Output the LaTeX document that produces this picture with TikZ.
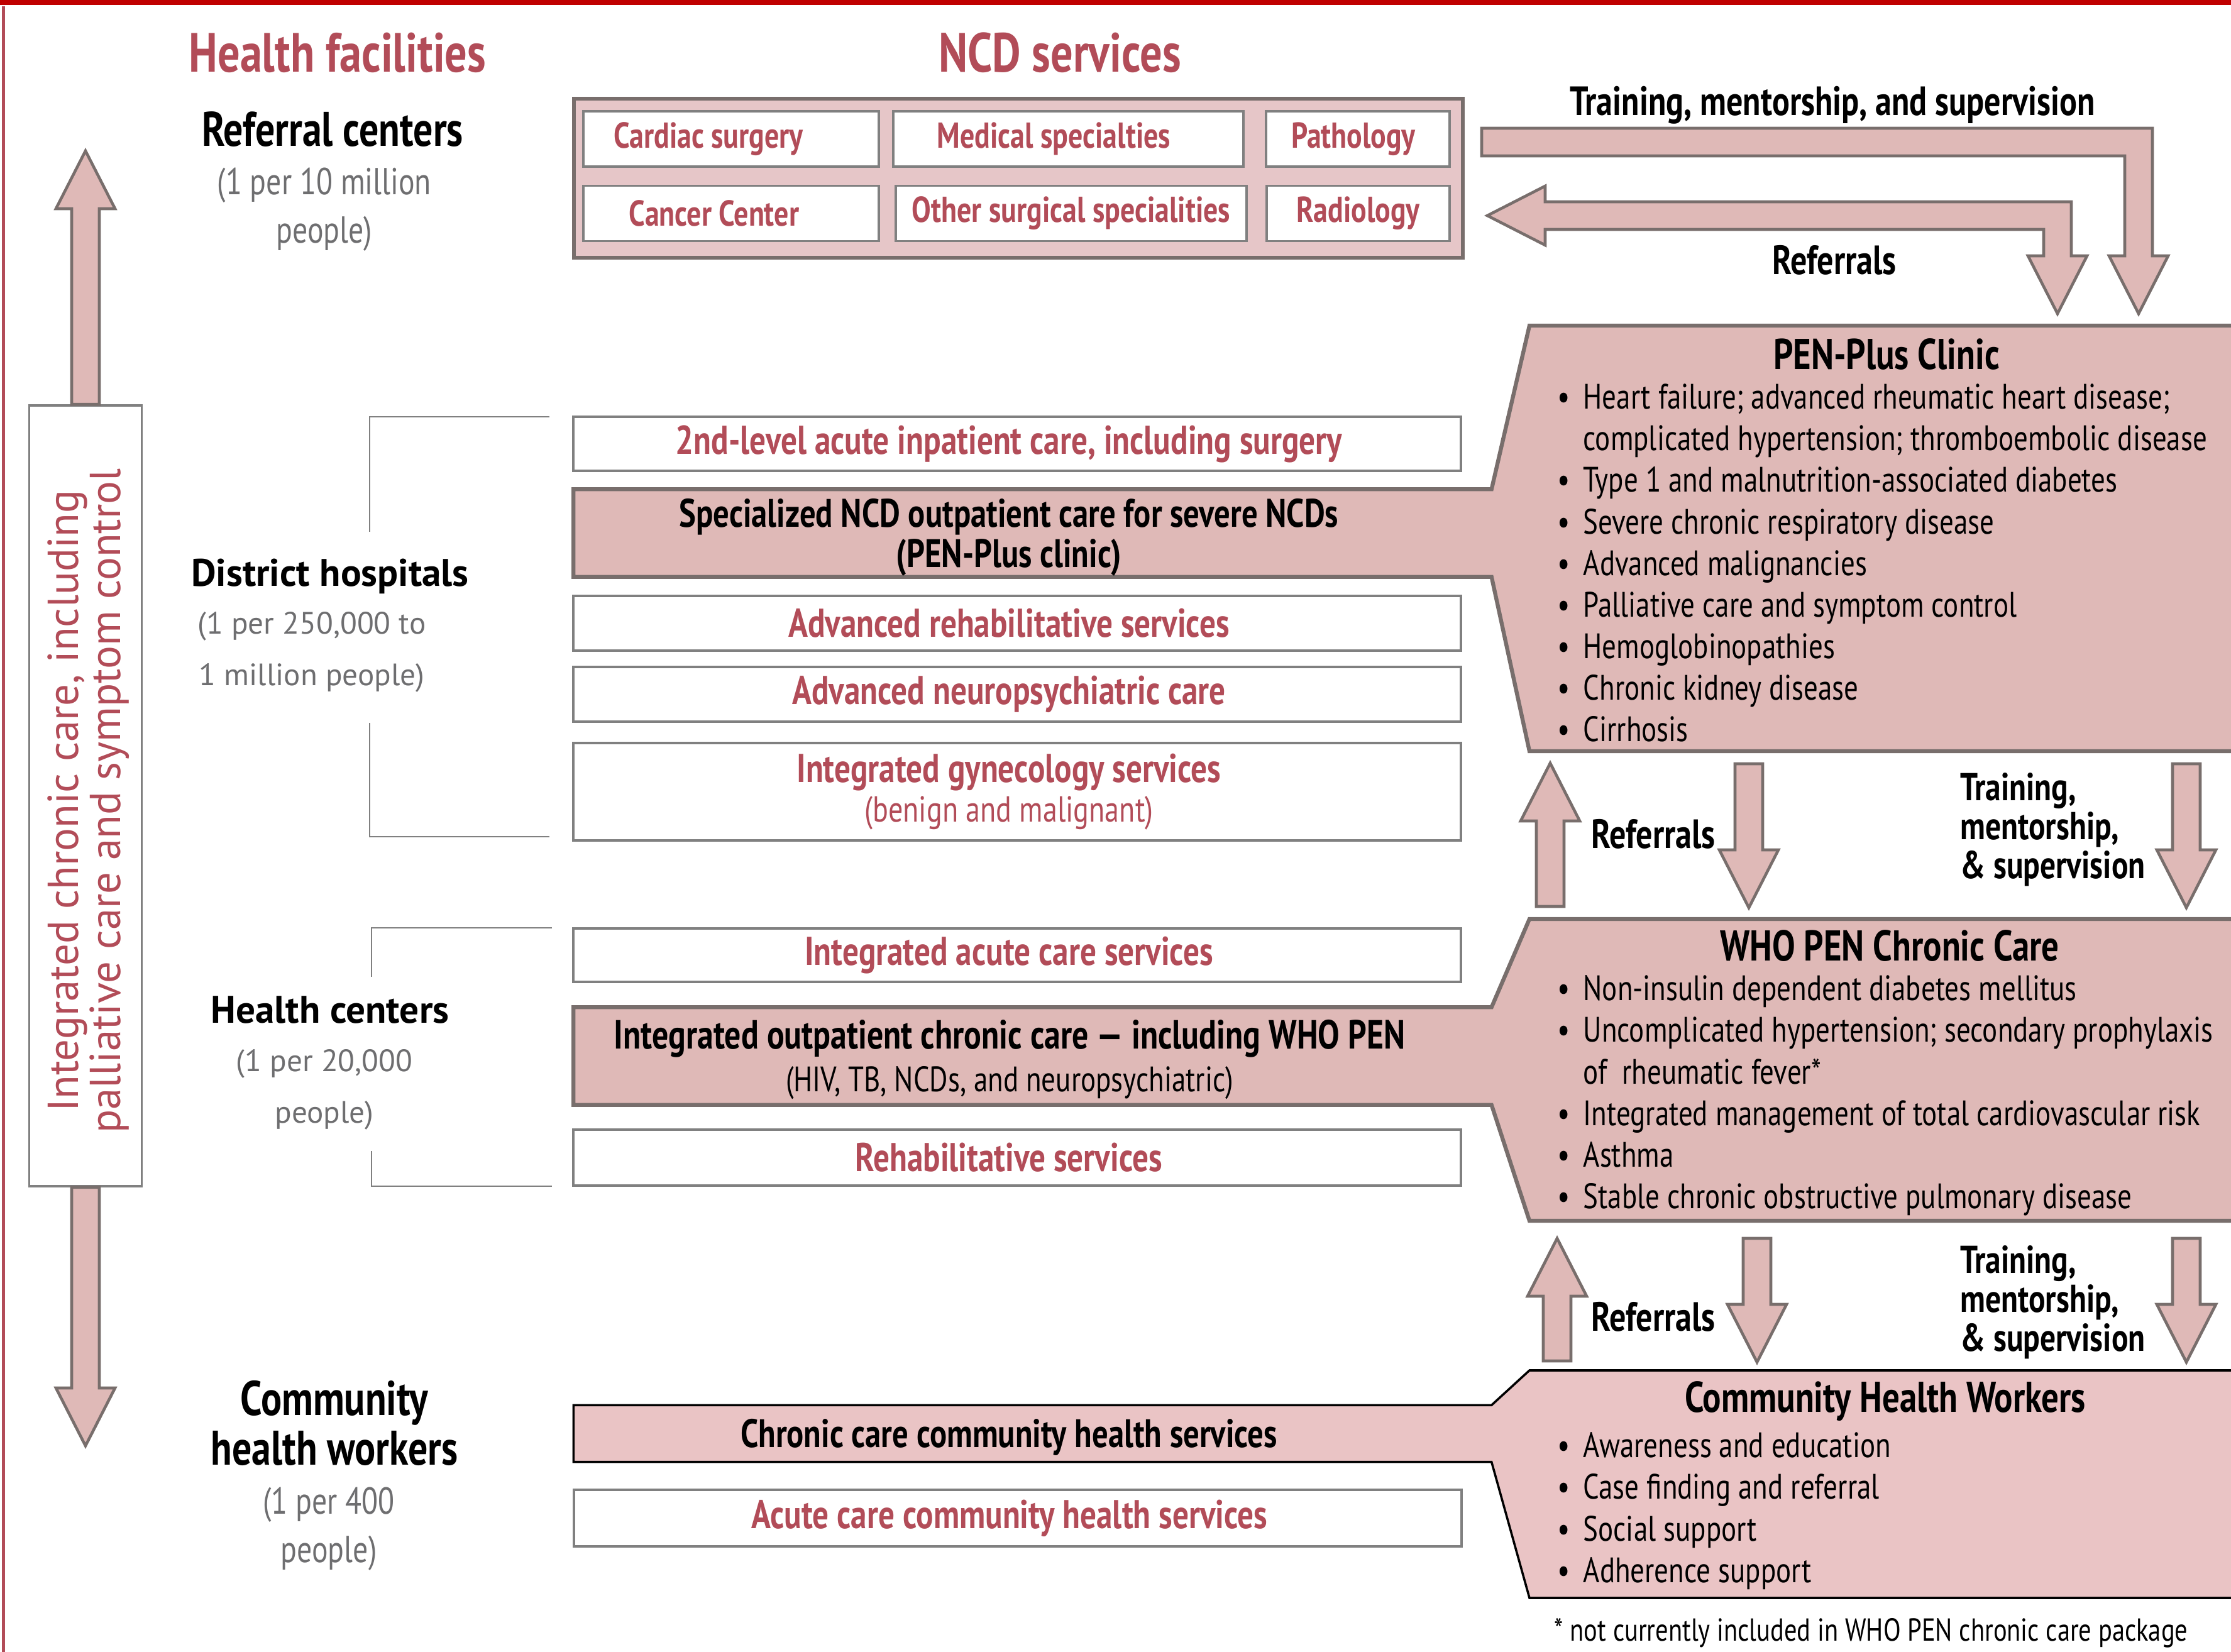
\documentclass[tikz,border=0pt]{standalone}
\usepackage{fontspec}
\setmainfont{PT Sans}[FakeStretch=0.8]
\newfontfamily\widefont{PT Sans}
\usetikzlibrary{calc}

\definecolor{rose}{RGB}{178,76,88}
\definecolor{topred}{RGB}{192,0,0}
\definecolor{subgray}{RGB}{110,110,112}
\definecolor{boxgray}{RGB}{128,128,128}
\definecolor{edgegray}{RGB}{120,110,108}
\definecolor{penfill}{RGB}{223,185,183}
\definecolor{chwfill}{RGB}{234,196,197}
\definecolor{reffill}{RGB}{230,198,200}

\newcommand{\fs}[2]{\fontsize{#1}{#2}\selectfont}
\newcommand{\bul}{\makebox[0.41cm][l]{\textbullet}}
\newcommand{\nob}{\hspace*{0.41cm}}

% block arrow sizes
\def\sw{0.22cm}
\def\hw{0.47cm}
\def\hl{0.92cm}
\newcommand{\fatdown}[2]{%
	\draw[fat] let \p1=(#1), \p2=(#2) in
		(\x1-\sw,\y1) -- (\x1-\sw,\y2+\hl) -- (\x1-\hw,\y2+\hl) -- (\x1,\y2)
		-- (\x1+\hw,\y2+\hl) -- (\x1+\sw,\y2+\hl) -- (\x1+\sw,\y1) -- cycle;}
\newcommand{\fatup}[2]{%
	\draw[fat] let \p1=(#1), \p2=(#2) in
		(\x1-\sw,\y1) -- (\x1-\sw,\y2-\hl) -- (\x1-\hw,\y2-\hl) -- (\x1,\y2)
		-- (\x1+\hw,\y2-\hl) -- (\x1+\sw,\y2-\hl) -- (\x1+\sw,\y1) -- cycle;}

\tikzset{
	heading/.style={text=rose, font=\fs{25}{28}\bfseries},
	level/.style={font=\fs{22}{22.5}\bfseries, align=center},
	levelsub/.style={text=subgray, font=\fs{17}{21.9}, align=center},
	widelevel/.style={font=\widefont\fs{17.4}{20}\bfseries},
	widesub/.style={text=subgray, font=\widefont\fs{14}{23.3}, align=center},
	bracket/.style={draw=boxgray, line width=0.8pt},
	svcbox/.style={
		draw=boxgray,
		line width=1.1pt,
		fill=white,
		minimum width=14.12cm,
		inner sep=0pt
	},
	svctext/.style={text=rose, font=\fs{18.2}{18}\bfseries, align=center, inner sep=0pt, xshift=-0.13cm},
	specbox/.style={
		draw=boxgray,
		line width=1pt,
		fill=white,
		minimum height=0.88cm,
		inner sep=0pt
	},
	spectext/.style={text=rose, font=\fs{16.3}{18}\bfseries, inner sep=0pt},
	barlabel/.style={font=\fs{18}{18}\bfseries, align=center, inner sep=0pt},
	penedge/.style={draw=edgegray, line width=1.8pt},
	fat/.style={draw=edgegray, line width=1.3pt, fill=penfill, line join=miter},
	arrowlabel/.style={font=\fs{18.5}{17.6}\bfseries, align=left},
	trainlabel/.style={font=\fs{17.6}{17.6}\bfseries, align=left, anchor=west},
	pentitle/.style={font=\fs{19.5}{21}\bfseries},
	penlist/.style={font=\fs{16}{18.83}, align=left, anchor=north west, inner sep=0pt}
}

\begin{document}
\begin{tikzpicture}
\useasboundingbox (0,0) rectangle (35.49,-26.28);

% frame
\fill[topred] (0,0) rectangle (35.49,-0.08);
\draw[rose, line width=1.4pt] (0.055,-0.10) -- (0.055,-26.28);

% column headings
\node[heading] (hfac) at (5.37,-0.84) {Health facilities};
\node[heading] (ncd)  at (16.86,-0.84) {NCD services};

% levels
\node[level]     (refc)    at (5.29,-2.06)  {Referral centers};
\node[levelsub]  (refcsub) at (5.16,-3.33)  {(1 per 10 million\\people)};
\node[widelevel] (dist)    at (5.25,-9.17)  {District hospitals};
\node[widesub]   (distsub) at (4.96,-10.37) {(1 per 250,000 to\\1 million people)};
\node[widelevel] (hc)      at (5.25,-16.07) {Health centers};
\node[widesub]   (hcsub)   at (5.16,-17.33) {(1 per 20,000\\people)};
\node[level]     (chwl)    at (5.32,-22.64) {Community\\health workers};
\node[levelsub]  (chwsub)  at (5.23,-24.32) {(1 per 400\\people)};

\draw[bracket] (8.74,-6.63) -- (5.88,-6.63) -- (5.88,-8.46);
\draw[bracket] (5.88,-11.50) -- (5.88,-13.31) -- (8.74,-13.31);
\draw[bracket] (8.78,-14.76) -- (5.91,-14.76) -- (5.91,-15.54);
\draw[bracket] (5.91,-18.31) -- (5.91,-18.87) -- (8.78,-18.87);

% chronic care column
\node[draw=boxgray, line width=1pt, fill=white, minimum width=1.79cm, minimum height=12.42cm, inner sep=0pt]
	(chronic) at (1.36,-12.66) {};
\node[rotate=90, text=rose, font=\widefont\fs{19.6}{19}, align=center, inner sep=0pt]
	(chronictxt) at (1.41,-12.74) {Integrated chronic care, including\\palliative care and symptom control};
\coordinate (uptip)   at (1.36,-2.40);
\coordinate (downtip) at (1.36,-23.00);
\fatup{chronic.north}{uptip}
\fatdown{chronic.south}{downtip}

% referral centers
\node[draw=edgegray, line width=1.6pt, fill=reffill, minimum width=14.14cm, minimum height=2.53cm] (refbox) at (16.20,-2.835) {};
\node[specbox, minimum width=4.70cm] (cardiac) at (11.63,-2.21)   {};
\node[specbox, minimum width=5.57cm] (medspec) at (16.995,-2.21)  {};
\node[specbox, minimum width=2.92cm] (patho)   at (21.60,-2.21)   {};
\node[specbox, minimum width=4.70cm] (cancer)  at (11.63,-3.395)  {};
\node[specbox, minimum width=5.58cm] (othsurg) at (17.04,-3.395)  {};
\node[specbox, minimum width=2.91cm] (radio)   at (21.605,-3.395) {};
\node[spectext, xshift=-0.36cm] (cardiac-t) at (cardiac) {Cardiac surgery};
\node[spectext, xshift=-0.23cm] (medspec-t) at (medspec) {Medical specialties};
\node[spectext, xshift=-0.07cm] (patho-t)   at (patho)   {Pathology};
\node[spectext, xshift=-0.27cm] (cancer-t)  at (cancer)  {Cancer Center};
\node[spectext]                 (othsurg-t) at (othsurg) {Other surgical specialities};
\node[spectext]                 (radio-t)   at (radio)   {Radiology};

% top arrows
\coordinate (tr-start) at (23.57,-2.26);
\coordinate (tr-tip)   at (34.02,-4.99);
\coordinate (ref-tip)  at (23.66,-3.43);
\coordinate (ref-down) at (32.73,-4.99);
\draw[fat] let \p1=(tr-start), \p2=(tr-tip) in
	(\x1,\y1+\sw) -- (\x2+\sw,\y1+\sw) -- (\x2+\sw,\y2+\hl) -- (\x2+\hw,\y2+\hl) -- (\p2)
	-- (\x2-\hw,\y2+\hl) -- (\x2-\sw,\y2+\hl) -- (\x2-\sw,\y1-\sw) -- (\x1,\y1-\sw) -- cycle;
\draw[fat] let \p1=(ref-tip), \p2=(ref-down) in
	(\p1) -- (\x1+\hl,\y1+\hw) -- (\x1+\hl,\y1+\sw) -- (\x2+\sw,\y1+\sw) -- (\x2+\sw,\y2+\hl)
	-- (\x2+\hw,\y2+\hl) -- (\p2) -- (\x2-\hw,\y2+\hl) -- (\x2-\sw,\y2+\hl) -- (\x2-\sw,\y1-\sw)
	-- (\x1+\hl,\y1-\sw) -- (\x1+\hl,\y1-\hw) -- cycle;
\node[arrowlabel] (trtop)  at (29.15,-1.67) {Training, mentorship, and supervision};
\node[arrowlabel] (reftop) at (29.18,-4.14) {Referrals};

% district hospital services
\node[svcbox, minimum height=0.86cm] (lvl2) at (16.18,-7.06) {};
\node[svctext] (lvl2-t) at (lvl2) {2nd-level acute inpatient care, including surgery};
\node[barlabel, minimum width=14.59cm, minimum height=1.38cm] (spec) at (16.425,-8.48) {};
\coordinate (pp-tl) at (24.33,-5.18);
\coordinate (pp-bl) at (24.33,-11.95);
\fill[penfill] (35.49,-5.18) -- (pp-tl) -- (spec.north east) -- (spec.north west)
	-- (spec.south west) -- (spec.south east) -- (pp-bl) -- (35.49,-11.95) -- cycle;
\draw[penedge] (35.49,-5.18) -- (pp-tl) -- (spec.north east) -- (spec.north west)
	-- (spec.south west) -- (spec.south east) -- (pp-bl) -- (35.49,-11.95);
\node[barlabel] (spec-t) at (16.05,-8.55) {Specialized NCD outpatient care for severe NCDs\\(PEN-Plus clinic)};
\node[svcbox, minimum height=0.87cm] (advrehab) at (16.18,-9.915)  {};
\node[svcbox, minimum height=0.87cm] (advneuro) at (16.18,-11.045) {};
\node[svcbox, minimum height=1.55cm] (gyn)      at (16.18,-12.595) {};
\node[svctext] (advrehab-t) at (advrehab) {Advanced rehabilitative services};
\node[svctext] (advneuro-t) at (advneuro) {Advanced neuropsychiatric care};
\node[svctext] (gyn-t)      at (gyn) {Integrated gynecology services\\{\fs{16.4}{18}\mdseries (benign and malignant)}};

% PEN-Plus clinic
\node[pentitle] (pptitle) at (30.01,-5.64) {PEN-Plus Clinic};
\node[penlist] (pplist) at (24.77,-6.10) {\bul Heart failure; advanced rheumatic heart disease;\\
	\nob complicated hypertension; thromboembolic disease\\
	\bul Type 1 and malnutrition-associated diabetes\\
	\bul Severe chronic respiratory disease\\
	\bul Advanced malignancies\\
	\bul Palliative care and symptom control\\
	\bul Hemoglobinopathies\\
	\bul Chronic kidney disease\\
	\bul Cirrhosis};

% PEN-Plus <-> WHO PEN
\coordinate (m-up-tail)  at (24.66,-14.42);
\coordinate (m-up-tip)   at (24.66,-12.14);
\coordinate (m-dn-tail)  at (27.82,-12.15);
\coordinate (m-dn-tip)   at (27.82,-14.44);
\coordinate (m-tr-tail)  at (34.78,-12.15);
\coordinate (m-tr-tip)   at (34.78,-14.44);
\fatup{m-up-tail}{m-up-tip}
\fatdown{m-dn-tail}{m-dn-tip}
\fatdown{m-tr-tail}{m-tr-tip}
\node[arrowlabel] (mref) at (26.30,-13.27) {Referrals};
\node[trainlabel] (mtr) at (31.06,-13.20) {Training,\\mentorship,\\\& supervision};

% health center services
\node[svcbox, minimum height=0.85cm] (acute) at (16.18,-15.195) {};
\node[svctext] (acute-t) at (acute) {Integrated acute care services};
\node[barlabel, minimum width=14.59cm, minimum height=1.54cm] (outpt) at (16.425,-16.80) {};
\coordinate (who-tl) at (24.33,-14.62);
\coordinate (who-bl) at (24.33,-19.42);
\fill[penfill] (35.49,-14.62) -- (who-tl) -- (outpt.north east) -- (outpt.north west)
	-- (outpt.south west) -- (outpt.south east) -- (who-bl) -- (35.49,-19.42) -- cycle;
\draw[penedge] (35.49,-14.62) -- (who-tl) -- (outpt.north east) -- (outpt.north west)
	-- (outpt.south west) -- (outpt.south east) -- (who-bl) -- (35.49,-19.42);
\node[barlabel, font=\fs{18.4}{19.3}\bfseries] (outpt-t) at (16.06,-16.86) {Integrated outpatient chronic care — including WHO PEN\\{\fs{16}{19.3}\mdseries (HIV, TB, NCDs, and neuropsychiatric)}};
\node[svcbox, minimum height=0.89cm] (rehab) at (16.18,-18.415) {};
\node[svctext] (rehab-t) at (rehab) {Rehabilitative services};

% WHO PEN chronic care
\node[pentitle] (whotitle) at (30.06,-15.05) {WHO PEN Chronic Care};
\node[penlist] (wholist) at (24.77,-15.51) {\bul Non-insulin dependent diabetes mellitus\\
	\bul Uncomplicated hypertension; secondary prophylaxis\\
	\nob of\ \ rheumatic fever*\\
	\bul Integrated management of total cardiovascular risk\\
	\bul Asthma\\
	\bul Stable chronic obstructive pulmonary disease};

% WHO PEN <-> CHW
\coordinate (l-up-tail) at (24.77,-21.65);
\coordinate (l-up-tip)  at (24.77,-19.70);
\coordinate (l-dn-tail) at (27.95,-19.70);
\coordinate (l-dn-tip)  at (27.95,-21.67);
\coordinate (l-tr-tail) at (34.78,-19.70);
\coordinate (l-tr-tip)  at (34.78,-21.67);
\fatup{l-up-tail}{l-up-tip}
\fatdown{l-dn-tail}{l-dn-tip}
\fatdown{l-tr-tail}{l-tr-tip}
\node[arrowlabel] (lref) at (26.30,-20.95) {Referrals};
\node[trainlabel] (ltr) at (31.06,-20.72) {Training,\\mentorship,\\\& supervision};

% community services
\node[barlabel, minimum width=14.59cm, minimum height=0.89cm] (chcomm) at (16.425,-22.805) {};
\coordinate (chw-tl) at (24.33,-21.80);
\coordinate (chw-bl) at (24.33,-25.42);
\fill[chwfill] (35.49,-21.80) -- (chw-tl) -- (chcomm.north east) -- (chcomm.north west)
	-- (chcomm.south west) -- (chcomm.south east) -- (chw-bl) -- (35.49,-25.42) -- cycle;
\draw[black, line width=1pt] (35.49,-21.80) -- (chw-tl) -- (chcomm.north east) -- (chcomm.north west)
	-- (chcomm.south west) -- (chcomm.south east) -- (chw-bl) -- (35.49,-25.42);
\node[barlabel] (chcomm-t) at (16.05,-22.86) {Chronic care community health services};
\node[svcbox, minimum height=0.90cm] (acomm) at (16.19,-24.15) {};
\node[svctext] (acomm-t) at (acomm) {Acute care community health services};

% community health workers
\node[pentitle] (chwtitle) at (29.99,-22.29) {Community Health Workers};
\node[penlist] (chwlist) at (24.77,-22.78) {\bul Awareness and education\\
	\bul Case finding and referral\\
	\bul Social support\\
	\bul Adherence support};

\node[font=\fs{14.4}{16}, anchor=west, inner sep=0pt] (foot) at (24.72,-25.98) {* not currently included in WHO PEN chronic care package};

\end{tikzpicture}
\end{document}
